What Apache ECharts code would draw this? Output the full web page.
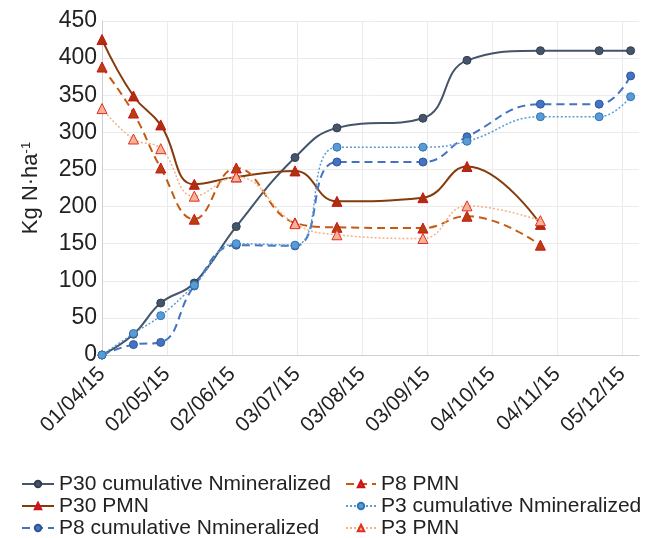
<!DOCTYPE html>
<html>
<head>
<meta charset="utf-8">
<title>Cumulative N mineralized and PMN</title>
<script src="https://cdn.jsdelivr.net/npm/echarts@6/dist/echarts.min.js"></script>
<style>
  * { margin: 0; padding: 0; }
  #main { width: 649px; height: 538px; background: #fff; }
</style>
</head>
<body>
<div id="main"></div>
<script>
// sampling dates (dd/mm/yy)
const sampleDates = ['01/04/15', '16/04/15', '29/04/15', '15/05/15', '04/06/15', '02/07/15',
  '22/07/15', '01/09/15', '22/09/15', '27/10/15', '24/11/15', '09/12/15'];

// Kg N/ha
const p30Cum = [0, 28, 70, 97, 173, 266, 306, 319, 397, 410, 410, 410];
const p30Pmn = [425, 349, 310, 230, 240, 248, 207, 212, 254, 176, null, null];
const p8Cum  = [0, 14, 17, 93, 148, 147, 260, 260, 294, 338, 338, 376];
const p8Pmn  = [388, 326, 252, 183, 252, 178, 172, 171, 187, 148, null, null];
const p3Cum  = [0, 29, 53, 94, 150, 148, 280, 280, 288, 321, 321, 348];
const p3Pmn  = [332, 291, 278, 214, 240, 177, 162, 157, 201, 181, null, null];

const yTicks = [0, 50, 100, 150, 200, 250, 300, 350, 400, 450];

const DAY = 86400000;
const start = Date.UTC(2015, 3, 1);

function toDay(s) {
    const p = s.split('/');
    return Math.round((Date.UTC(2000 + +p[2], +p[1] - 1, +p[0]) - start) / DAY);
}
function fmtDay(d) {
    const t = new Date(start + d * DAY);
    const dd = String(t.getUTCDate()).padStart(2, '0');
    const mm = String(t.getUTCMonth() + 1).padStart(2, '0');
    return dd + '/' + mm + '/' + String(t.getUTCFullYear()).slice(2);
}
function pairs(vals) {
    const out = [];
    vals.forEach((v, i) => { if (v != null) out.push([toDay(sampleDates[i]), v]); });
    return out;
}

const FONT = '"Liberation Sans", Arial, Helvetica, sans-serif';

function mkSeries(name, vals, o) {
    return {
        name: name,
        type: 'line',
        data: pairs(vals),
        smooth: 0.45,
        symbol: o.symbol,
        symbolSize: o.symbol === 'triangle' ? 10 : 8,
        showSymbol: true,
        lineStyle: { color: o.line, width: o.width || 2, type: o.dash || 'solid' },
        itemStyle: { color: o.fill, borderColor: o.border, borderWidth: 1 }
    };
}

const chart = echarts.init(document.getElementById('main'), null, { renderer: 'canvas' });

const legendText = { fontSize: 21, color: '#222', lineHeight: 22, fontFamily: FONT };

const option = {
    animation: false,
    textStyle: { fontFamily: FONT },
    grid: { left: 102, right: 10, top: 21, bottom: 183, outerBoundsMode: 'none' },
    legend: [
        {
            orient: 'vertical', left: 16, top: 468, height: 100, itemGap: 0,
            itemWidth: 32, itemHeight: 8,
            textStyle: legendText,
            data: ['P30 cumulative Nmineralized', 'P30 PMN', 'P8 cumulative Nmineralized']
        },
        {
            orient: 'vertical', left: 340, top: 468, height: 100, itemGap: 0,
            itemWidth: 30, itemHeight: 8,
            textStyle: legendText,
            data: ['P8 PMN', 'P3 cumulative Nmineralized', 'P3 PMN']
        }
    ],
    xAxis: {
        type: 'value',
        min: 0,
        max: 256,
        interval: 31,
        axisLine: { show: true, lineStyle: { color: '#cfcfcf', width: 1 } },
        axisTick: { show: false },
        splitLine: { show: true, showMaxLine: false, lineStyle: { color: '#ebebeb', width: 1 } },
        axisLabel: {
            rotate: 45,
            margin: 16,
            showMaxLabel: false,
            fontSize: 21,
            color: '#222',
            fontFamily: FONT,
            formatter: v => fmtDay(v)
        }
    },
    yAxis: {
        type: 'value',
        min: yTicks[0],
        max: yTicks[yTicks.length - 1],
        interval: 50,
        name: 'Kg N·ha{sup|-1}',
        nameLocation: 'middle',
        nameRotate: 90,
        nameGap: 60,
        nameTextStyle: {
            fontSize: 22, color: '#222', fontFamily: FONT,
            rich: { sup: { fontSize: 13, verticalAlign: 'top', color: '#222', fontFamily: FONT } }
        },
        axisLine: { show: true, lineStyle: { color: '#cfcfcf', width: 1 } },
        axisTick: { show: false },
        splitLine: { show: true, lineStyle: { color: '#ebebeb', width: 1 } },
        axisLabel: { fontSize: 23, color: '#222', margin: 5, fontFamily: FONT }
    },
    series: [
        mkSeries('P30 cumulative Nmineralized', p30Cum,
            { symbol: 'circle', line: '#44546a', fill: '#44546a', border: '#333f50' }),
        mkSeries('P30 PMN', p30Pmn,
            { symbol: 'triangle', line: '#843c0c', fill: '#a8320c', border: '#d0101a' }),
        mkSeries('P8 cumulative Nmineralized', p8Cum,
            { symbol: 'circle', line: '#4472c4', fill: '#4472c4', border: '#2f5597', dash: [8, 5] }),
        mkSeries('P8 PMN', p8Pmn,
            { symbol: 'triangle', line: '#c55a11', fill: '#b5420e', border: '#d0101a', dash: [8, 5] }),
        mkSeries('P3 cumulative Nmineralized', p3Cum,
            { symbol: 'circle', line: '#5b9bd5', fill: '#5b9bd5', border: '#2e75b6', dash: [2, 2], width: 1.5 }),
        mkSeries('P3 PMN', p3Pmn,
            { symbol: 'triangle', line: '#f4b183', fill: '#f7b39a', border: '#e0301e', dash: [2, 2], width: 1.5 })
    ]
};

chart.setOption(option);
</script>
</body>
</html>
